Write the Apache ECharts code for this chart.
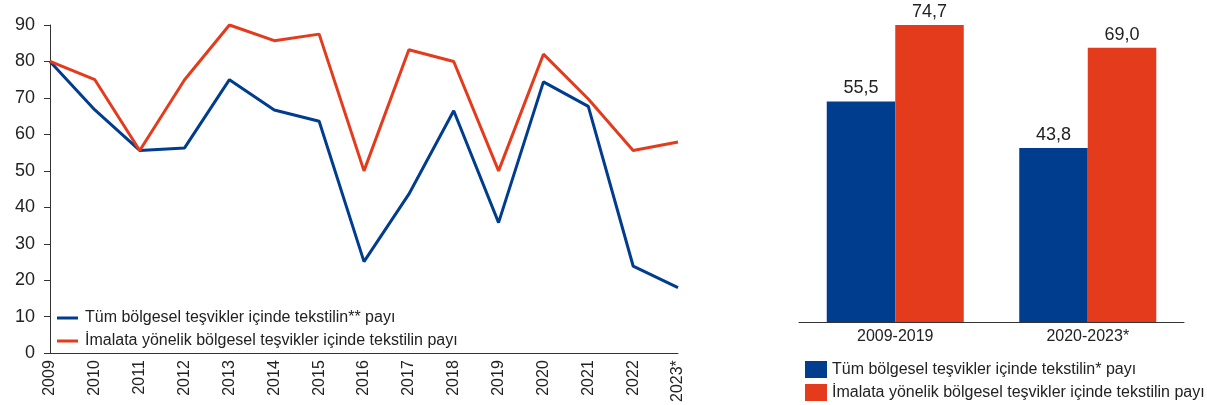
<!DOCTYPE html>
<html>
<head>
<meta charset="utf-8">
<script src="https://cdn.jsdelivr.net/npm/echarts@6/dist/echarts.min.js"></script>
<style>
html,body{margin:0;padding:0;background:#fff;}
#c{width:1207px;height:405px;}
</style>
</head>
<body>
<div id="c"></div>
<script>
const years = ['2009','2010','2011','2012','2013','2014','2015','2016','2017','2018','2019','2020','2021','2022','2023*'];
const allShare = [80, 66.7, 55.6, 56.3, 75, 66.7, 63.6, 25.1, 43.6, 66.5, 35.8, 74.4, 67.7, 23.9, 18.0];
const mfgShare = [80, 75, 55.6, 75, 90, 85.7, 87.5, 50, 83.2, 80, 50, 82, 69.7, 55.6, 57.9];
const periods = ['2009-2019', '2020-2023*'];
const periodAll = [55.5, 43.8];
const periodMfg = [74.7, 69.0];
const yTicks = {min: 0, max: 90, interval: 10};

const nameAllLine = 'Tüm bölgesel teşvikler içinde tekstilin** payı';
const nameMfg = 'İmalata yönelik bölgesel teşvikler içinde tekstilin payı';
const nameAllBar = 'Tüm bölgesel teşvikler içinde tekstilin* payı';
const nameMfgBar = 'İmalata yönelik bölgesel teşvikler içinde tekstilin payı\u200b';

const BLUE = '#003d8f';
const RED = '#e53b1d';
const FONT = '"Liberation Sans", Arial, sans-serif';
const fmt = p => p.value.toFixed(1).replace('.', ',');

const chart = echarts.init(document.getElementById('c'), null, {renderer: 'canvas'});
chart.setOption({
  animation: false,
  textStyle: {fontFamily: FONT, color: '#222'},
  grid: [
    {left: 50, right: 529, top: 25, bottom: 48, containLabel: false},
    {left: 799, right: 23, top: 4, bottom: 83, containLabel: false}
  ],
  xAxis: [
    {
      type: 'category', gridIndex: 0, data: years, boundaryGap: false,
      axisLine: {lineStyle: {color: '#333', width: 1}},
      axisTick: {show: false},
      axisLabel: {rotate: 90, fontSize: 16, color: '#222', margin: 7, interval: 0, fontFamily: FONT}
    },
    {
      type: 'category', gridIndex: 1, data: periods,
      axisLine: {lineStyle: {color: '#333', width: 1}},
      axisTick: {show: false},
      axisLabel: {fontSize: 16, color: '#222', margin: 7, fontFamily: FONT}
    }
  ],
  yAxis: [
    {
      type: 'value', gridIndex: 0, min: yTicks.min, max: yTicks.max, interval: yTicks.interval,
      axisLine: {show: true, lineStyle: {color: '#333', width: 1}},
      axisTick: {show: true, length: 6, lineStyle: {color: '#333'}},
      splitLine: {show: false},
      axisLabel: {fontSize: 18, color: '#222', margin: 15, fontFamily: FONT}
    },
    {
      type: 'value', gridIndex: 1, min: 0, max: 80,
      show: false, splitLine: {show: false}
    }
  ],
  legend: [
    {
      orient: 'vertical', left: 57, top: 310, padding: 0, icon: 'rect', itemWidth: 21, itemHeight: 3,
      itemGap: 7,
      data: [nameAllLine, nameMfg],
      textStyle: {fontSize: 16, color: '#222', fontFamily: FONT, lineHeight: 16, padding: [0, 0, 0, 2]},
      selectedMode: false
    },
    {
      orient: 'vertical', left: 805, top: 361, padding: 0, height: 44, icon: 'rect', itemWidth: 22, itemHeight: 17,
      itemGap: 6,
      data: [nameAllBar, nameMfgBar],
      textStyle: {fontSize: 16, color: '#222', fontFamily: FONT, lineHeight: 17},
      selectedMode: false
    }
  ],
  series: [
    {
      name: nameAllLine, type: 'line', xAxisIndex: 0, yAxisIndex: 0, data: allShare,
      symbol: 'none', lineStyle: {color: BLUE, width: 3}, itemStyle: {color: BLUE}
    },
    {
      name: nameMfg, type: 'line', xAxisIndex: 0, yAxisIndex: 0, data: mfgShare,
      symbol: 'none', lineStyle: {color: RED, width: 3}, itemStyle: {color: RED}
    },
    {
      name: nameAllBar, type: 'bar', xAxisIndex: 1, yAxisIndex: 1, data: periodAll,
      barWidth: 68.5, barGap: '0%', itemStyle: {color: BLUE},
      label: {show: true, position: 'top', distance: 4, fontSize: 18, color: '#222', fontFamily: FONT, formatter: fmt}
    },
    {
      name: nameMfgBar, type: 'bar', xAxisIndex: 1, yAxisIndex: 1, data: periodMfg,
      barWidth: 68.5, barGap: '0%', itemStyle: {color: RED},
      label: {show: true, position: 'top', distance: 4, fontSize: 18, color: '#222', fontFamily: FONT, formatter: fmt}
    }
  ]
});
</script>
</body>
</html>
